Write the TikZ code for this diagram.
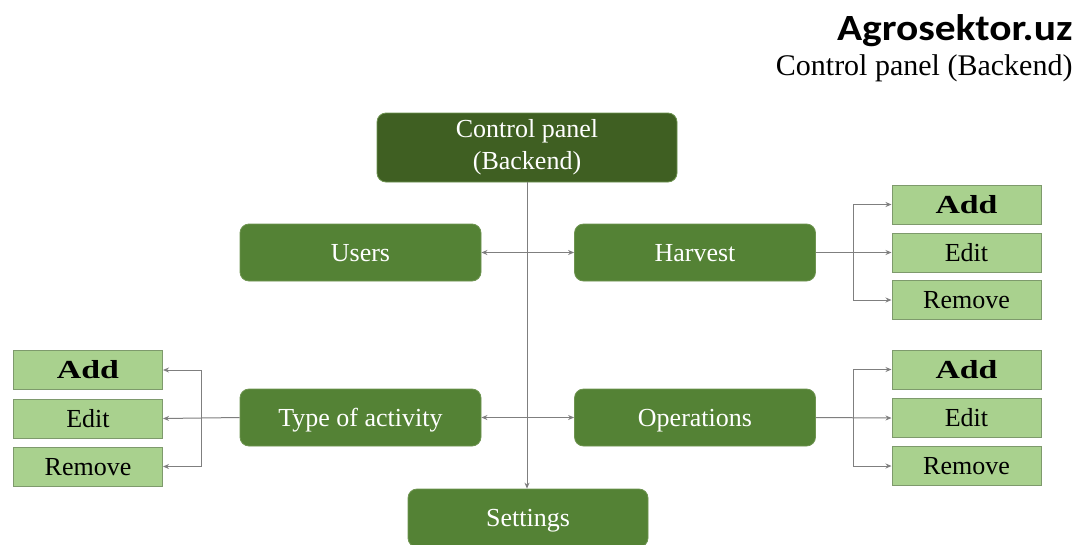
\documentclass[tikz,border=0pt]{standalone}
\usepackage{fontspec}
\setmainfont{Liberation Serif}
\newfontfamily\titlefont{Carlito}
\usetikzlibrary{arrows.meta}
\definecolor{topgreen}{HTML}{3F5F22}
\definecolor{maingreen}{HTML}{548235}
\definecolor{edgegreen}{HTML}{6E9450}
\definecolor{subgreen}{HTML}{A9D18E}
\definecolor{subedge}{HTML}{7E9A6C}
\definecolor{linkgrey}{HTML}{7F7F7F}
\newcommand{\addlabel}{\scalebox{1.3}[1]{\bfseries Add}}
\tikzset{
  topbox/.style={draw=edgegreen, line width=0.8pt, fill=topgreen, rounded corners=9pt,
    minimum width=300pt, minimum height=69pt, text=white, font=\fontsize{26}{32}\selectfont,
    align=center, inner sep=0pt},
  mainbox/.style={draw=edgegreen, line width=0.8pt, fill=maingreen, rounded corners=9pt,
    minimum width=241pt, minimum height=57pt, text=white, font=\fontsize{26}{30}\selectfont,
    inner sep=0pt, text height=17pt, text depth=0pt},
  subbox/.style={draw=subedge, line width=1pt, fill=subgreen, minimum width=149pt,
    minimum height=39pt, text=black, font=\fontsize{26}{28}\selectfont, inner sep=0pt,
    text height=17pt, text depth=0pt},
  link/.style={draw=linkgrey, line width=1pt},
  arr/.style={link, -{Stealth[length=6pt,width=5pt]}},
  dbl/.style={link, {Stealth[length=6pt,width=5pt]}-{Stealth[length=6pt,width=5pt]}}
}
\begin{document}
\begin{tikzpicture}[x=1pt, y=-1pt]
\clip (0,0) rectangle (1083,544);
\fill[white] (0,0) rectangle (1083,544);

% heading
\node[anchor=base east, font=\titlefont\bfseries\fontsize{37}{40}\selectfont] (brand) at (1076,40) {\scalebox{1.12}[1]{Agrosektor.uz}};
\node[anchor=base east, font=\fontsize{30}{34}\selectfont] (subtitle) at (1076,75) {Control panel (Backend)};

% main boxes
\node[topbox] (cp) at (527,147.5) {Control panel\\(Backend)};
\node[mainbox] (users) at (360.5,252.5) {Users};
\node[mainbox] (harvest) at (695,252.5) {Harvest};
\node[mainbox] (type) at (360.5,417.5) {Type of activity};
\node[mainbox] (ops) at (695,417.5) {Operations};
\node[mainbox, minimum width=240pt, minimum height=58pt] (settings) at (528,518) {};
\node[text=white, font=\fontsize{26}{30}\selectfont, text height=17pt, text depth=0pt, inner sep=0pt] (settingstext) at (528,518) {Settings};

% sub boxes of Harvest
\node[subbox] (hadd) at (966.5,204.5) {\addlabel};
\node[subbox] (hedit) at (966.5,252.5) {Edit};
\node[subbox] (hrem) at (966.5,300) {Remove};
% sub boxes of Operations
\node[subbox] (oadd) at (966.5,369.5) {\addlabel};
\node[subbox] (oedit) at (966.5,418) {Edit};
\node[subbox] (orem) at (966.5,466) {Remove};
% sub boxes of Type of activity
\node[subbox] (tadd) at (88,370) {\addlabel};
\node[subbox] (tedit) at (88,418.5) {Edit};
\node[subbox] (trem) at (88,466.5) {Remove};

% trunk and branches
\coordinate (j1) at (527,252.5);
\draw[arr] (cp.south -| j1) -- (j1 |- settings.north);
\draw[dbl] (users.east) -- (harvest.west);
\draw[dbl] (type.east) -- (ops.west);

% Harvest fan-out
\coordinate (hb) at (853,252.5);
\draw[arr] (harvest.east) -- (hedit.west);
\draw[arr] (hb) |- (hadd.west);
\draw[arr] (hb) |- (hrem.west);

% Operations fan-out
\coordinate (ob) at (853,418);
\draw[arr] (ops.east) -- (oedit.west);
\draw[arr] (ob) |- (oadd.west);
\draw[arr] (ob) |- (orem.west);

% Type of activity fan-out
\coordinate (tb) at (201,418.5);
\draw[arr] (type.west) -- (tedit.east);
\draw[arr] (tb) |- (tadd.east);
\draw[arr] (tb) |- (trem.east);
\end{tikzpicture}
\end{document}
